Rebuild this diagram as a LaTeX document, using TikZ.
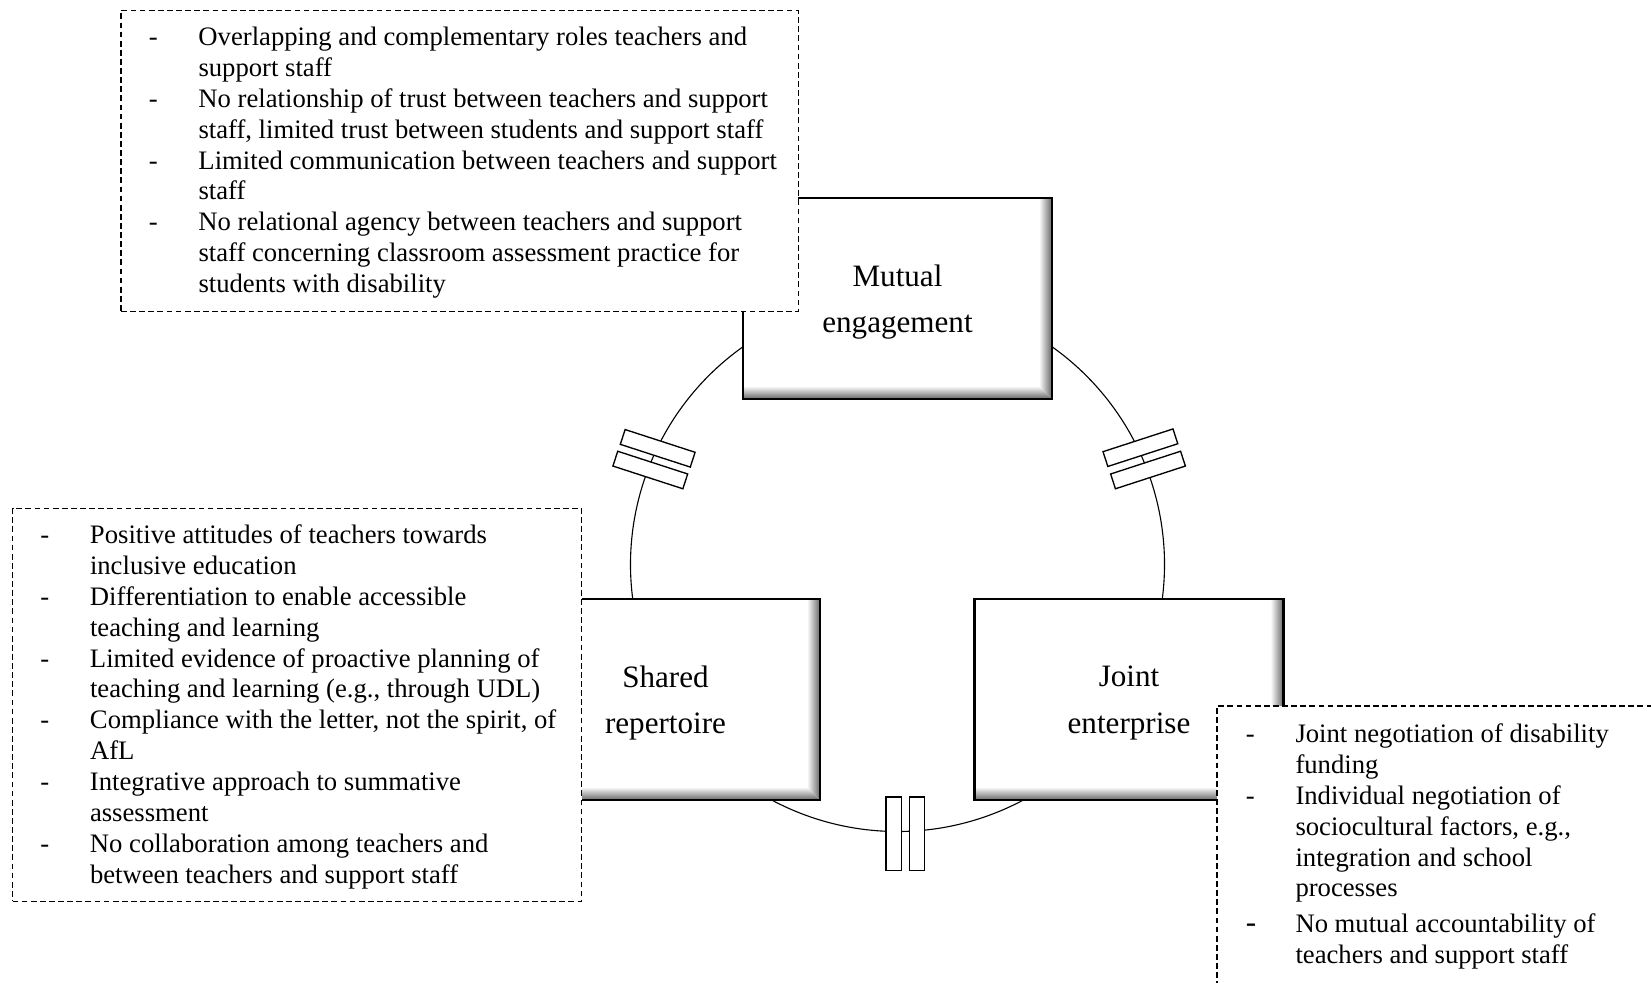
\documentclass[tikz,border=0pt]{standalone}
\usepackage{fontspec}
\setmainfont{Liberation Serif}
\usetikzlibrary{calc}
\begin{document}
\begin{tikzpicture}[x=0.45pt,y=-0.45pt,
  stage/.style={fill=white, minimum width=139.05pt, minimum height=90.45pt,
    inner sep=0pt, outer sep=0pt},
  stagelabel/.style={inner sep=0pt, align=center,
    font=\fontsize{14}{20.9}\selectfont},
  stageline/.style={line width=1.05pt},
  note/.style={draw, fill=white, line width=0.5pt, dash pattern=on 2.6pt off 1.5pt,
    inner sep=0pt, outer sep=0pt, anchor=north west},
  notetext/.style={inner sep=0pt, anchor=base west, font=\fontsize{12}{13.9}\selectfont},
  brk/.style={draw, fill=white, line width=0.6pt, minimum width=33.1pt,
    minimum height=7pt, inner sep=0pt, outer sep=0pt},
  ring/.style={line width=0.5pt}]

\useasboundingbox (0,0) rectangle (1651,982);
\clip (0,0) rectangle (1651,982);

% centre of the ring that links the three stages
\coordinate (ctr) at (897.5,564.5);

% ring segments between the stages
\draw[ring] (ctr) ++(240:267) arc[start angle=240, end angle=170, radius=267];
\draw[ring] (ctr) ++(-60:267) arc[start angle=-60, end angle=10, radius=267];
\draw[ring] (ctr) ++(122:267) arc[start angle=122, end angle=58, radius=267];

% a stage box with a soft inner shadow on its right and bottom sides
\newcommand\stagebox[4]{%
  \node[stage] (#1) at (#2,#3) {};
  \node[stagelabel] (#1-label) at ($(#1.center)+(0,3.5)$) {#4};
  \shade[left color=white, right color=black!60]
    (#1.north east) -- (#1.south east) -- ($(#1.south east)+(-13,-13)$)
    -- ($(#1.north east)+(-13,0)$) -- cycle;
  \shade[top color=white, bottom color=black!60]
    (#1.south west) -- (#1.south east) -- ($(#1.south east)+(-13,-13)$)
    -- ($(#1.south west)+(0,-13)$) -- cycle;
  \draw[stageline] (#1.north west) rectangle (#1.south east);
}

\stagebox{mutual}{897.5}{298.5}{Mutual\\engagement}
\stagebox{shared}{665.5}{699.5}{Shared\\repertoire}
\stagebox{joint}{1129}{699.5}{Joint\\enterprise}

% breaks on the ring
\node[brk, rotate=-18] (brkL1) at (657.7,448.3) {};
\node[brk, rotate=-18] (brkL2) at (650.3,470) {};
\node[brk, rotate=18] (brkR1) at (1140.4,447.7) {};
\node[brk, rotate=18] (brkR2) at (1148,470) {};
\node[brk, rotate=90] (brkB1) at (893.7,833.7) {};
\node[brk, rotate=90] (brkB2) at (917,833.7) {};

% note on mutual engagement
\node[note, minimum width=304.7pt, minimum height=135.5pt] (noteM) at (121,10.5) {};
\node[notetext] (textM) at (148.5,45.5) {%
  \begin{tabular}[t]{@{}p{22.3pt}@{}l@{}}
  - & Overlapping and complementary roles teachers and\\
    & support staff\\
  - & No relationship of trust between teachers and support\\
    & staff, limited trust between students and support staff\\
  - & Limited communication between teachers and support\\
    & staff\\
  - & No relational agency between teachers and support\\
    & staff concerning classroom assessment practice for\\
    & students with disability
  \end{tabular}};

% note on shared repertoire
\node[note, minimum width=256.2pt, minimum height=176.6pt] (noteS) at (12.6,508.6) {};
\node[notetext] (textS) at (40,543.5) {%
  \begin{tabular}[t]{@{}p{22.3pt}@{}l@{}}
  - & Positive attitudes of teachers towards\\
    & inclusive education\\
  - & Differentiation to enable accessible\\
    & teaching and learning\\
  - & Limited evidence of proactive planning of\\
    & teaching and learning (e.g., through UDL)\\
  - & Compliance with the letter, not the spirit, of\\
    & AfL\\
  - & Integrative approach to summative\\
    & assessment\\
  - & No collaboration among teachers and\\
    & between teachers and support staff
  \end{tabular}};

% note on joint enterprise
\node[note, minimum width=230pt, minimum height=150pt] (noteJ) at (1217,706) {};
\node[notetext] (textJ) at (1245.5,742.5) {%
  \begin{tabular}[t]{@{}p{22.3pt}@{}l@{}}
  - & Joint negotiation of disability\\
    & funding\\
  - & Individual negotiation of\\
    & sociocultural factors, e.g.,\\
    & integration and school\\
    & processes\\[2.3pt]
  {\fontsize{14}{13.9}\selectfont -} & No mutual accountability of\\
    & teachers and support staff
  \end{tabular}};

\end{tikzpicture}
\end{document}
